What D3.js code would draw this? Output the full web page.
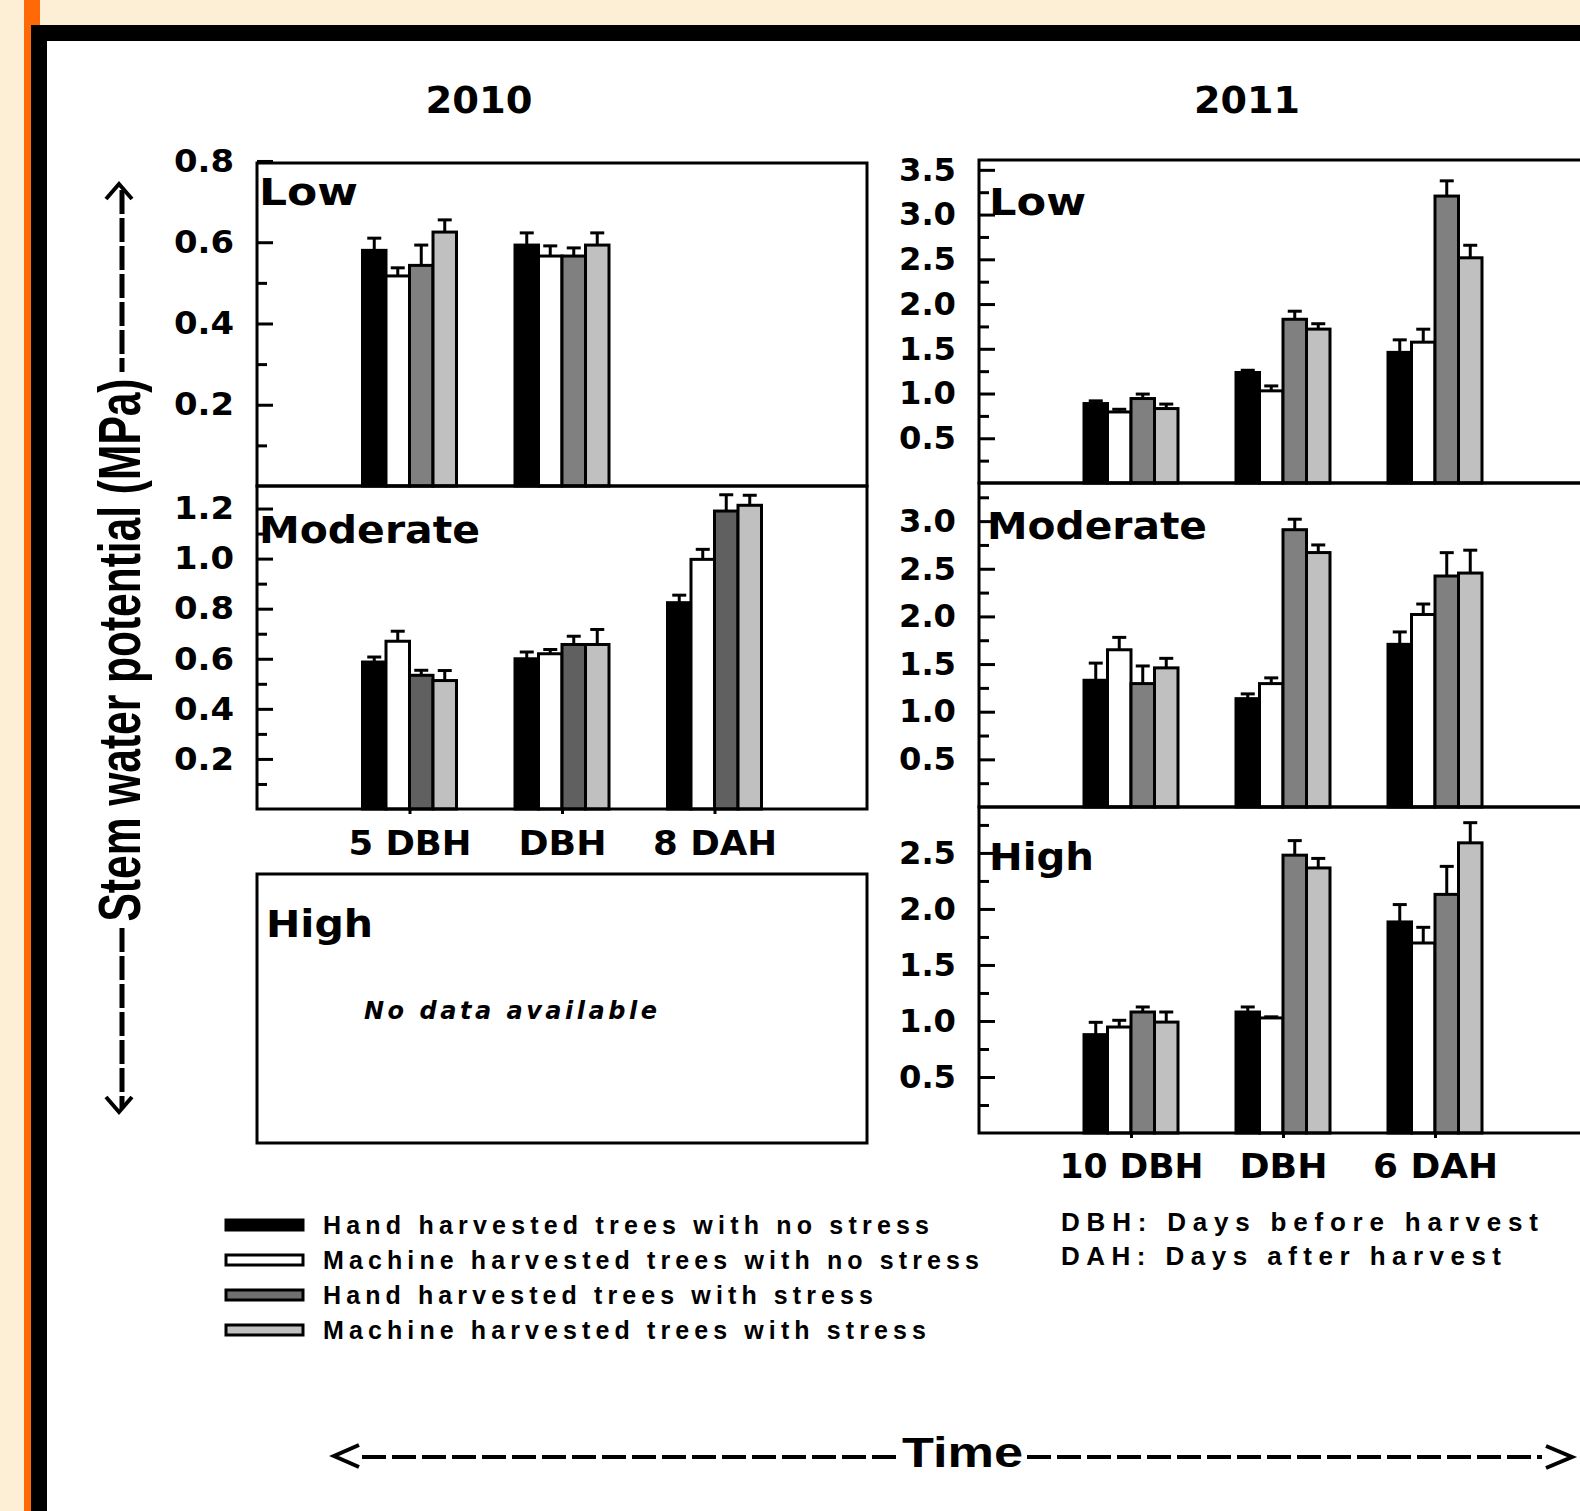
<!DOCTYPE html>
<html>
<head>
<meta charset="utf-8">
<script src="https://cdn.jsdelivr.net/npm/d3@7"></script>
<style>
body { margin: 0; background: #fdefd5; }
svg { display: block; }
</style>
</head>
<body>
<script>
// ---- data ----
let groups2010 = ["5 DBH", "DBH", "8 DAH"];
let groups2011 = ["10 DBH", "DBH", "6 DAH"];
let seriesNames = [
  "Hand harvested trees with no stress",
  "Machine harvested trees with no stress",
  "Hand harvested trees with stress",
  "Machine harvested trees with stress"
];

// one row per time point, columns follow seriesNames (null = not measured)
let low2010 = [[0.58, 0.517, 0.543, 0.625], [0.593, 0.566, 0.566, 0.593], null];
let low2010Err = [[0.03, 0.02, 0.05, 0.03], [0.03, 0.025, 0.02, 0.03], null];
let mod2010 = [[0.587, 0.67, 0.534, 0.513], [0.60, 0.62, 0.657, 0.657], [0.824, 0.997, 1.19, 1.213]];
let mod2010Err = [[0.02, 0.04, 0.02, 0.04], [0.027, 0.017, 0.033, 0.06], [0.03, 0.04, 0.065, 0.04]];

let low2011 = [[0.888, 0.794, 0.944, 0.832], [1.235, 1.03, 1.83, 1.72], [1.46, 1.574, 3.207, 2.517]];
let low2011Err = [[0.03, 0.03, 0.05, 0.05], [0.025, 0.055, 0.09, 0.06], [0.14, 0.145, 0.17, 0.14]];
let mod2011 = [[1.33, 1.65, 1.295, 1.46], [1.137, 1.295, 2.91, 2.67], [1.707, 2.02, 2.424, 2.455]];
let mod2011Err = [[0.18, 0.13, 0.185, 0.1], [0.05, 0.06, 0.11, 0.08], [0.13, 0.11, 0.245, 0.24]];
let high2011 = [[0.878, 0.946, 1.08, 0.99], [1.08, 1.027, 2.48, 2.366], [1.884, 1.696, 2.13, 2.59]];
let high2011Err = [[0.11, 0.06, 0.045, 0.09], [0.045, 0.01, 0.13, 0.085], [0.155, 0.14, 0.25, 0.18]];

// tick labels
let ticksLow2010 = [0.2, 0.4, 0.6, 0.8];
let minorLow2010 = [0.1, 0.3, 0.5];
let ticksMod2010 = [0.2, 0.4, 0.6, 0.8, 1.0, 1.2];
let minorMod2010 = [0.1, 0.3, 0.5, 0.7, 0.9, 1.1];
let ticksLow2011 = [0.5, 1.0, 1.5, 2.0, 2.5, 3.0, 3.5];
let minorLow2011 = [0.25, 0.75, 1.25, 1.75, 2.25, 2.75, 3.25];
let ticksMod2011 = [0.5, 1.0, 1.5, 2.0, 2.5, 3.0];
let minorMod2011 = [0.25, 0.75, 1.25, 1.75, 2.25, 2.75, 3.25];
let ticksHigh2011 = [0.5, 1.0, 1.5, 2.0, 2.5];
let minorHigh2011 = [0.25, 0.75, 1.25, 1.75, 2.25, 2.75];

// ---- styling / layout ----
let W = 1580, H = 1511;
let FONT = "'DejaVu Sans', Verdana, sans-serif";
let NARROW = "'Liberation Sans Narrow', 'Liberation Sans', Arial, sans-serif";
let seriesFill = ["#000000", "#ffffff", "#808080", "#c0c0c0"];
let legendFill = ["#000000", "#ffffff", "#707070", "#c0c0c0"];

let svg = d3.select("body").append("svg")
  .attr("width", W).attr("height", H);

// page frame
svg.append("rect").attr("width", W).attr("height", H).attr("fill", "#fdefd5");
svg.append("rect").attr("x", 24).attr("width", 16).attr("height", H).attr("fill", "#ff6a06");
svg.append("rect").attr("x", 31).attr("y", 25).attr("width", W - 31).attr("height", H - 25).attr("fill", "#000");
svg.append("rect").attr("x", 47).attr("y", 41).attr("width", W - 47).attr("height", H - 41).attr("fill", "#fff");

function txt(s, x, y, size, len, opt = {}) {
  return svg.append("text")
    .attr("x", x).attr("y", y)
    .attr("font-family", opt.family || FONT)
    .attr("font-size", size)
    .attr("font-weight", opt.weight || "bold")
    .attr("font-style", opt.style || "normal")
    .attr("text-anchor", opt.anchor || "start")
    .attr("textLength", len)
    .attr("lengthAdjust", opt.adjust || "spacingAndGlyphs")
    .text(s);
}

txt("2010", 479, 113, 38, 107, {anchor: "middle"});
txt("2011", 1247, 113, 38, 106, {anchor: "middle"});

let panels = [
  {x0: 257, x1: 867, y0: 163, y1: 486, max: 0.795, majors: ticksLow2010, minors: minorLow2010,
   groups: groups2010, values: low2010, errors: low2010Err, tickLen: 60,
   name: "Low", nameX: 259, nameY: 205, nameLen: 99},
  {x0: 257, x1: 867, y0: 486, y1: 809, max: 1.29, majors: ticksMod2010, minors: minorMod2010,
   groups: groups2010, values: mod2010, errors: mod2010Err, tickLen: 60, dark: "#606060",
   name: "Moderate", nameX: 259, nameY: 543, nameLen: 221,
   catY: 855, catLen: [123, 88, 124]},
  {x0: 979, x1: 1587, y0: 160, y1: 483, max: 3.61, majors: ticksLow2011, minors: minorLow2011,
   groups: groups2011, values: low2011, errors: low2011Err, tickLen: 57,
   name: "Low", nameX: 989, nameY: 215, nameLen: 97},
  {x0: 979, x1: 1587, y0: 483, y1: 807, max: 3.40, majors: ticksMod2011, minors: minorMod2011,
   groups: groups2011, values: mod2011, errors: mod2011Err, tickLen: 57,
   name: "Moderate", nameX: 987, nameY: 539, nameLen: 220},
  {x0: 979, x1: 1587, y0: 807, y1: 1133, max: 2.91, majors: ticksHigh2011, minors: minorHigh2011,
   groups: groups2011, values: high2011, errors: high2011Err, tickLen: 57,
   name: "High", nameX: 989, nameY: 870, nameLen: 105,
   catY: 1178, catLen: [144, 88, 125]}
];

function drawPanel(p) {
  let g = svg.append("g");
  let x = d3.scalePoint().domain(p.groups).range([p.x0, p.x1]).padding(1);
  let sub = d3.scaleBand().domain(d3.range(seriesNames.length)).range([-47, 47]);
  let y = d3.scaleLinear().domain([0, p.max]).range([p.y1, p.y0]);
  let fills = seriesFill.map((c, i) => (i === 2 && p.dark) ? p.dark : c);

  let cells = [];
  p.values.forEach((row, i) => {
    if (!row) return;
    row.forEach((v, j) => cells.push({grp: p.groups[i], s: j, v: v, e: p.errors[i][j]}));
  });

  g.append("g").selectAll("rect")
    .data(cells)
    .join("rect")
    .attr("x", d => x(d.grp) + sub(d.s))
    .attr("y", d => y(d.v))
    .attr("width", sub.bandwidth())
    .attr("height", d => y(0) - y(d.v))
    .attr("fill", d => fills[d.s])
    .attr("stroke", "#000")
    .attr("stroke-width", 3);

  let eb = g.append("g").attr("stroke", "#000").attr("stroke-width", 3);
  let cx = d => x(d.grp) + sub(d.s) + sub.bandwidth() / 2;
  eb.selectAll("line.stem").data(cells).join("line").attr("class", "stem")
    .attr("x1", cx).attr("x2", cx)
    .attr("y1", d => y(d.v)).attr("y2", d => y(d.v + d.e));
  eb.selectAll("line.cap").data(cells).join("line").attr("class", "cap")
    .attr("x1", d => cx(d) - 7).attr("x2", d => cx(d) + 7)
    .attr("y1", d => y(d.v + d.e)).attr("y2", d => y(d.v + d.e));

  g.append("rect")
    .attr("x", p.x0).attr("y", p.y0)
    .attr("width", p.x1 - p.x0).attr("height", p.y1 - p.y0)
    .attr("fill", "none").attr("stroke", "#000").attr("stroke-width", 3);

  let ya = g.append("g")
    .attr("transform", `translate(${p.x0},0)`)
    .call(d3.axisLeft(y).tickValues(p.majors).tickSize(-16).tickPadding(23).tickFormat(d3.format(".1f")));
  ya.select(".domain").remove();
  ya.selectAll(".tick line").attr("stroke-width", 3);
  ya.selectAll(".tick text")
    .attr("font-family", FONT).attr("font-size", 32).attr("font-weight", "bold")
    .attr("textLength", p.tickLen).attr("lengthAdjust", "spacingAndGlyphs");

  let ym = g.append("g")
    .attr("transform", `translate(${p.x0},0)`)
    .call(d3.axisLeft(y).tickValues(p.minors).tickSize(-10).tickFormat(""));
  ym.select(".domain").remove();
  ym.selectAll(".tick line").attr("stroke-width", 3);

  if (p.catLen) {
    let xa = g.append("g")
      .attr("transform", `translate(0,${p.y1})`)
      .call(d3.axisBottom(x).tickSize(5));
    xa.select(".domain").remove();
    xa.selectAll(".tick line").attr("stroke-width", 3);
    xa.selectAll(".tick text")
      .attr("y", p.catY - p.y1).attr("dy", null)
      .attr("font-family", FONT).attr("font-size", 34).attr("font-weight", "bold")
      .attr("textLength", (d, i) => p.catLen[i]).attr("lengthAdjust", "spacingAndGlyphs");
  }

  txt(p.name, p.nameX, p.nameY, 37, p.nameLen);
}

panels.forEach(drawPanel);

// 2010 High: empty box
svg.append("rect")
  .attr("x", 257).attr("y", 874).attr("width", 610).attr("height", 269)
  .attr("fill", "none").attr("stroke", "#000").attr("stroke-width", 3);
txt("High", 266, 937, 37, 107);
txt("No data available", 364, 1019, 24, 293, {style: "italic", adjust: "spacing"});

// legend
let legendLen = [606, 656, 550, 603];
let lg = svg.append("g");
seriesNames.forEach((s, i) => {
  let yc = 1225 + i * 35;
  lg.append("rect")
    .attr("x", 226).attr("y", yc - 5).attr("width", 77).attr("height", 10)
    .attr("fill", legendFill[i]).attr("stroke", "#000").attr("stroke-width", 3);
  txt(s, 323, yc + 9, 25, legendLen[i], {family: NARROW, adjust: "spacing"});
});
txt("DBH: Days before harvest", 1061, 1231, 26, 477, {family: NARROW, adjust: "spacing"});
txt("DAH: Days after harvest", 1061, 1265, 26, 440, {family: NARROW, adjust: "spacing"});

// time arrow
let arrow = svg.append("g").attr("stroke", "#000").attr("fill", "none").attr("stroke-width", 4);
arrow.append("path").attr("d", "M359,1445L334,1456L359,1467");
arrow.append("line").attr("x1", 362).attr("x2", 897).attr("y1", 1457).attr("y2", 1457).attr("stroke-dasharray", "24,6");
arrow.append("line").attr("x1", 1027).attr("x2", 1542).attr("y1", 1457).attr("y2", 1457).attr("stroke-dasharray", "24,6");
arrow.append("path").attr("d", "M1546,1446L1572,1457L1546,1468");
txt("Time", 902, 1467, 42, 121, {family: NARROW});

// y-axis title with arrows
let ya = svg.append("g").attr("stroke", "#000").attr("fill", "none").attr("stroke-width", 5);
ya.append("path").attr("d", "M106,199L119,184L132,199").attr("stroke-width", 4);
ya.append("line").attr("x1", 122).attr("x2", 122).attr("y1", 190).attr("y2", 372).attr("stroke-dasharray", "24,4");
ya.append("line").attr("x1", 122).attr("x2", 122).attr("y1", 928).attr("y2", 1108).attr("stroke-dasharray", "24,4");
ya.append("path").attr("d", "M106,1097L119,1112L132,1097").attr("stroke-width", 4);
svg.append("text")
  .attr("transform", "translate(140,650) rotate(-90) scale(1,1.4)")
  .attr("font-family", "'Liberation Sans', Arial, sans-serif")
  .attr("font-size", 42).attr("font-weight", "bold")
  .attr("text-anchor", "middle")
  .attr("textLength", 543).attr("lengthAdjust", "spacingAndGlyphs")
  .text("Stem water potential (MPa)");
</script>
</body>
</html>
